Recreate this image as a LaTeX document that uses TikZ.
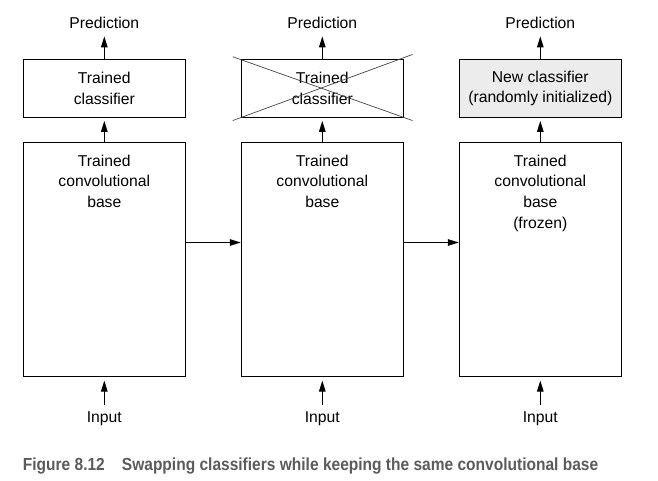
\documentclass[tikz,border=0pt]{standalone}
\usepackage{fontspec}
\usepackage{graphicx}
\setmainfont{Liberation Sans}
\usetikzlibrary{arrows.meta}
\definecolor{capgray}{HTML}{5B5B5B}
\definecolor{newfill}{HTML}{ECECEC}
\definecolor{crossgray}{HTML}{444444}
\tikzset{
  txt/.style={font=\fontsize{15.7}{20.6}\selectfont, inner sep=0pt, align=center},
  clsbox/.style={draw, line width=1.1pt, minimum width=162pt, minimum height=58pt, inner sep=0pt,
    font=\fontsize{15.7}{20.6}\selectfont, align=center},
  basebox/.style={draw, line width=1.1pt, minimum width=162pt, minimum height=234.4pt, inner sep=0pt},
  arr/.style={line width=1.1pt, -{Triangle[length=11pt,width=6.5pt]}},
  crossline/.style={line width=0.7pt, crossgray}
}
\begin{document}
\begin{tikzpicture}[x=1pt,y=-1pt]
\useasboundingbox (0,0) rectangle (658,481);
% boxes
\foreach \i/\x in {1/104.3,2/322.3,3/540.3}{
  \node[basebox] (b\i) at (\x,259.5) {};
  \node[txt, anchor=base] (p\i) at (\x,29) {Prediction};
  \node[txt, anchor=base] (in\i) at (\x,422.3) {Input};
}
\node[clsbox] (c1) at (104.3,88.3) {Trained\\classifier};
\node[clsbox] (c2) at (322.3,88.3) {Trained\\classifier};
\node[clsbox, fill=newfill] (c3) at (540.3,88.3) {New classifier\\(randomly initialized)};
\node[txt, anchor=north] (bt1) at ([yshift=-13pt]b1.north) {Trained\\convolutional\\base};
\node[txt, anchor=north] (bt2) at ([yshift=-13pt]b2.north) {Trained\\convolutional\\base};
\node[txt, anchor=north] (bt3) at ([yshift=-13pt]b3.north) {Trained\\convolutional\\base\\(frozen)};
% cross
\draw[crossline] ([shift={(-8,-2)}]c2.north west) -- ([shift={(8.7,2.7)}]c2.south east);
\draw[crossline] ([shift={(-8,2.7)}]c2.south west) -- ([shift={(8.7,-4.3)}]c2.north east);
% arrows
\foreach \i in {1,2,3}{
  \draw[arr, shorten >=3pt] (b\i.north) -- (c\i.south);
  \draw[arr, shorten >=7pt] (c\i.north) -- (p\i.south);
  \draw[arr, shorten <=6pt, shorten >=3.3pt] (in\i.north) -- (b\i.south);
}
\draw[arr] ([yshift=17pt]b1.east) -- ([yshift=17pt]b2.west);
\draw[arr] ([yshift=17pt]b2.east) -- ([yshift=17pt]b3.west);
% caption
\node[anchor=base west, inner sep=0pt, text=capgray, font=\fontsize{17.5}{20}\selectfont\bfseries] (cap) at (22.7,470.7)
  {\resizebox{575.3pt}{\height}{Figure 8.12\hspace{1.1em}Swapping classifiers while keeping the same convolutional base}};
\end{tikzpicture}
\end{document}
